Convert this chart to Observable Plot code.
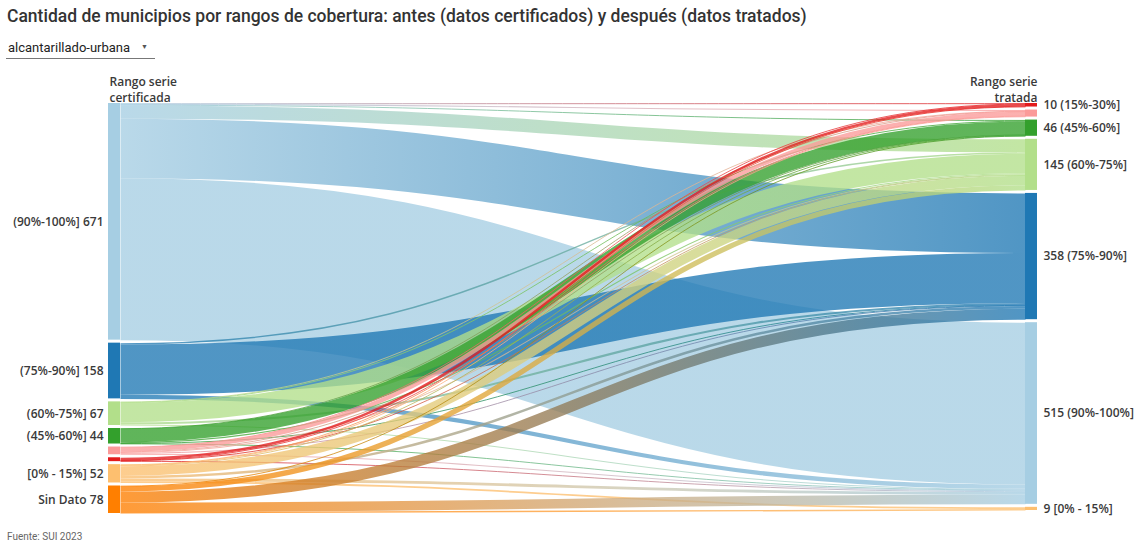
<!DOCTYPE html>
<html>
<head>
<meta charset="utf-8">
<script src="https://cdn.jsdelivr.net/npm/d3@7"></script>
<script src="https://cdn.jsdelivr.net/npm/@observablehq/plot@0.6"></script>
<style>
  html, body { margin: 0; padding: 0; background: #fff; }
  body { width: 1140px; height: 543px; overflow: hidden; position: relative; font-family: Roboto, "Noto Sans", sans-serif; color: #333; }
  #title { position: absolute; left: 7px; top: 6px; font-size: 17.5px; font-weight: 500; white-space: nowrap; color: #333; }
  #select { position: absolute; left: 6px; top: 39px; width: 149px; height: 19px; border-bottom: 1px solid #777; font-size: 13px; color: #222; }
  #select span.t { position: absolute; left: 2px; top: 1px; }
  #select span.a { position: absolute; left: 135px; top: 4px; font-size: 7px; color: #555; }
  #chart { position: absolute; left: 0; top: 62px; }
  #caption { position: absolute; left: 7px; top: 531px; font-size: 10px; color: #666; }
</style>
</head>
<body>
<div id="title">Cantidad de municipios por rangos de cobertura: antes (datos certificados) y después (datos tratados)</div>
<div id="select"><span class="t">alcantarillado-urbana</span><span class="a">▼</span></div>
<div id="chart"></div>
<div id="caption">Fuente: SUI 2023</div>
<script>
// ---- Data ----
const sourceCats = ["(90%-100%]", "(75%-90%]", "(60%-75%]", "(45%-60%]", "(30%-45%]", "(15%-30%]", "[0% - 15%]", "Sin Dato"];
const targetCats = ["(15%-30%]", "(30%-45%]", "(45%-60%]", "(60%-75%]", "(75%-90%]", "(90%-100%]", "[0% - 15%]"];
// municipios moving from each certified range (row) to each treated range (column, in targetCats order)
const flowsFrom90_100 = [1, 3, 2, 37, 169, 459, 0];
const flowsFrom75_90  = [0, 0, 0, 4, 142, 12, 0];
const flowsFrom60_75  = [0, 1, 2, 55, 6, 3, 0];
const flowsFrom45_60  = [0, 1, 38, 3, 1, 1, 0];
const flowsFrom30_45  = [1, 12, 1, 3, 2, 3, 0];
const flowsFrom15_30  = [7, 1, 0, 1, 0, 2, 0];
const flowsFrom0_15   = [1, 2, 2, 27, 7, 8, 5];
const flowsFromSinDato = [0, 0, 1, 15, 31, 27, 4];
const flows = [flowsFrom90_100, flowsFrom75_90, flowsFrom60_75, flowsFrom45_60, flowsFrom30_45, flowsFrom15_30, flowsFrom0_15, flowsFromSinDato];
const colorDomain = ["(90%-100%]", "(75%-90%]", "(60%-75%]", "(45%-60%]", "(30%-45%]", "(15%-30%]", "[0% - 15%]", "Sin Dato"];
const colorRange = ["#a6cee3", "#1f78b4", "#b2df8a", "#33a02c", "#fb9a99", "#e31a1c", "#fdbf6f", "#ff7f00"];
const hiddenLeftLabels = ["(30%-45%]", "(15%-30%]"];
const hiddenRightLabels = ["(30%-45%]"];
const headerLeft = "Rango serie\ncertificada";
const headerRight = "Rango serie\ntratada";

// ---- Layout (sankey computed by hand, in data units) ----
const W = 1140, H = 468, mt = 41, mb = 17, ml = 108, mr = 103;
const pad = 8.5;
const nodeW = 12 / (W - ml - mr);
const colorOf = new Map(colorDomain.map((d, i) => [d, colorRange[i]]));

const srcTotals = flows.map(r => d3.sum(r));
const tgtTotals = targetCats.map((_, j) => d3.sum(flows, r => r[j]));
let acc = 0;
const srcNodes = sourceCats.map((name, i) => {
  const n = {name, value: srcTotals[i], y0: acc, y1: acc + srcTotals[i], x1: 0, x2: nodeW};
  acc = n.y1 + pad; return n;
});
acc = 0;
const tgtNodes = targetCats.map((name, j) => {
  const n = {name, value: tgtTotals[j], y0: acc, y1: acc + tgtTotals[j], x1: 1 - nodeW, x2: 1};
  acc = n.y1 + pad; return n;
});
const yMax = Math.max(srcNodes[srcNodes.length - 1].y1, tgtNodes[tgtNodes.length - 1].y1);
const ky = (H - mt - mb) / yMax;

const links = [];
const srcOff = srcNodes.map(n => n.y0);
const tgtOff = tgtNodes.map(n => n.y0);
flows.forEach((row, i) => row.forEach((v, j) => {
  if (v > 0) links.push({i, j, value: v, ys: 0, yt: 0});
}));
// source side: ordered by target; target side: ordered by source
for (const l of links.slice().sort((a, b) => a.i - b.i || a.j - b.j)) { l.ys = srcOff[l.i] + l.value / 2; srcOff[l.i] += l.value; }
for (const l of links.slice().sort((a, b) => a.j - b.j || a.i - b.i)) { l.yt = tgtOff[l.j] + l.value / 2; tgtOff[l.j] += l.value; }
links.forEach(l => { l.xs = nodeW; l.xt = 1 - nodeW; l.id = `lg_${l.i}_${l.j}`; });

const linkMarks = links.map(l => Plot.link([l], {
  x1: "xs", y1: "ys", x2: "xt", y2: "yt", curve: "bump-x",
  stroke: `url(#${l.id})`, strokeWidth: Math.max(1, l.value * ky), strokeOpacity: 0.78
}));

const leftLabels = srcNodes.filter(n => !hiddenLeftLabels.includes(n.name)).map(n => ({x: 0, y: (n.y0 + n.y1) / 2, text: `${n.name} ${n.value}`}));
const rightLabels = tgtNodes.filter(n => !hiddenRightLabels.includes(n.name)).map(n => ({x: 1, y: (n.y0 + n.y1) / 2, text: `${n.value} ${n.name}`}));

const labelFont = "'Open Sans', 'Noto Sans', sans-serif";
const chart = Plot.plot({
  width: W, height: H,
  marginTop: mt, marginBottom: mb, marginLeft: ml, marginRight: mr,
  x: {domain: [0, 1], axis: null},
  y: {domain: [0, yMax], reverse: true, axis: null},
  color: {domain: colorDomain, range: colorRange},
  style: {fontFamily: labelFont, background: "transparent", color: "#333"},
  marks: [
    ...linkMarks,
    Plot.rect(srcNodes, {x1: "x1", x2: "x2", y1: "y0", y2: "y1", fill: "name"}),
    Plot.rect(tgtNodes, {x1: "x1", x2: "x2", y1: "y0", y2: "y1", fill: "name"}),
    Plot.text(leftLabels, {x: "x", y: "y", text: "text", textAnchor: "end", dx: -5, fontSize: 12, fontWeight: 600, fill: "#3a3a3a"}),
    Plot.text(rightLabels, {x: "x", y: "y", text: "text", textAnchor: "start", dx: 6, fontSize: 12, fontWeight: 600, fill: "#3a3a3a"}),
    Plot.text([{x: 0, y: 0}], {x: "x", y: "y", text: () => headerLeft, textAnchor: "start", lineAnchor: "bottom", dx: 1, dy: -2, fontSize: 12, fontWeight: 600, fill: "#3a3a3a", lineHeight: 1.3}),
    Plot.text([{x: 1, y: 0}], {x: "x", y: "y", text: () => headerRight, textAnchor: "end", lineAnchor: "bottom", dy: -2, fontSize: 12, fontWeight: 600, fill: "#3a3a3a", lineHeight: 1.3})
  ]
});

// gradients for links: source colour -> target colour
const xs = chart.scale("x");
const ns = "http://www.w3.org/2000/svg";
const defs = document.createElementNS(ns, "defs");
for (const l of links) {
  const g = document.createElementNS(ns, "linearGradient");
  g.setAttribute("id", l.id);
  g.setAttribute("gradientUnits", "userSpaceOnUse");
  g.setAttribute("x1", xs.apply(l.xs)); g.setAttribute("x2", xs.apply(l.xt));
  g.setAttribute("y1", 0); g.setAttribute("y2", 0);
  const s0 = document.createElementNS(ns, "stop"); s0.setAttribute("offset", "0%"); s0.setAttribute("stop-color", colorOf.get(sourceCats[l.i]));
  const s1 = document.createElementNS(ns, "stop"); s1.setAttribute("offset", "100%"); s1.setAttribute("stop-color", colorOf.get(targetCats[l.j]));
  g.appendChild(s0); g.appendChild(s1); defs.appendChild(g);
}
chart.insertBefore(defs, chart.firstChild);
document.getElementById("chart").appendChild(chart);
</script>
</body>
</html>
